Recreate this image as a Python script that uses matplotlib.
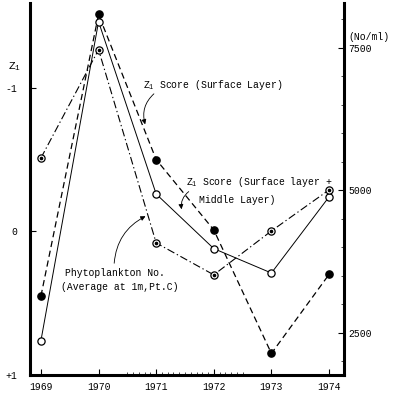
import matplotlib.pyplot as plt
import numpy as np

# values
years = [1969, 1970, 1971, 1972, 1973, 1974]
z1_surface = [0.45, -1.51, -0.50, -0.01, 0.85, 0.30]          # Z1 score (surface layer)
z1_surface_middle = [0.76, -1.46, -0.26, 0.12, 0.29, -0.24]   # Z1 score (surface + middle layer)
phyto_no = [5570, 7470, 4080, 3520, 4290, 5010]                # Phytoplankton No. (No/ml)

z_ticks = [-1, 0, 1]
z_tick_labels = ['-1', '0', '+1']
no_ticks = [2500, 5000, 7500]

mono = 'Liberation Mono'
plt.rcParams['font.family'] = mono
plt.rcParams['font.size'] = 7
plt.rcParams['mathtext.fontset'] = 'custom'
plt.rcParams['mathtext.rm'] = mono
plt.rcParams['mathtext.it'] = mono

fig = plt.figure(figsize=(3.94, 3.95), dpi=100)
ax = fig.add_axes([30 / 394, 1 - 375 / 395, 314 / 394, 372 / 395])
ax2 = ax.twinx()

# Z1 score lines (left axis, inverted)
ax.plot(years, z1_surface, color='black', lw=0.9, ls=(0, (5, 3)),
        marker='o', ms=5.2, mfc='black', mec='black', zorder=3)
ax.plot(years, z1_surface_middle, color='black', lw=0.7, ls='-',
        marker='o', ms=5.2, mfc='white', mec='black', mew=0.9, zorder=3)

# phytoplankton (right axis)
ax2.plot(years, phyto_no, color='black', lw=0.8, ls=(0, (7, 2.5, 1.2, 2.5)),
         marker='o', ms=5.2, mfc='white', mec='black', mew=0.9, zorder=3)
ax2.plot(years, phyto_no, ls='none', marker='o', ms=1.6, mfc='black', mec='black', zorder=4)

ax.set_xlim(1968.81, 1974.26)
ax.set_ylim(1.0, -1.59)
ax2.set_ylim(1763, 8289)

ax.set_xticks(years)
ax.set_xticklabels([str(y) for y in years])
ax.set_yticks(z_ticks)
ax.set_yticklabels(z_tick_labels)
ax2.set_yticks(no_ticks)
ax2.set_yticklabels([str(v) for v in no_ticks])

ax.tick_params(axis='x', direction='in', length=4, width=0.8, pad=5)
ax.tick_params(axis='y', direction='in', length=4, width=0.8, pad=9)
ax2.tick_params(axis='y', direction='in', length=4, width=0.8, pad=3)
ax.set_xticks(np.arange(1970.5, 1972.6, 0.1), minor=True)
ax.tick_params(axis='x', which='minor', direction='in', length=2, width=0.5)
ax2.set_yticks(np.arange(2000, 8001, 500), minor=True)
ax2.tick_params(axis='y', which='minor', direction='in', length=2, width=0.5)

for a in (ax, ax2):
    a.spines['top'].set_visible(False)
ax.spines['left'].set_linewidth(2.2)
ax.spines['bottom'].set_linewidth(2.2)
ax2.spines['right'].set_linewidth(2.2)
ax2.spines['left'].set_visible(False)
ax2.spines['bottom'].set_visible(False)

# axis labels
fig.text(15 / 394, 1 - 67 / 395, 'Z$_1$', ha='center', va='center', fontsize=8)
fig.text(348 / 394, 1 - 37 / 395, '(No/ml)', ha='left', va='center', fontsize=7)

# annotations
arrow = dict(arrowstyle='-|>', color='black', lw=0.6, mutation_scale=7,
             connectionstyle='arc3,rad=0.35')
fig.text(143 / 394, 1 - 85 / 395, 'Z$_1$ Score (Surface Layer)', ha='left', va='center')
ax.annotate('', xy=(146, 395 - 127), xycoords='figure pixels',
            xytext=(156, 395 - 92), textcoords='figure pixels', arrowprops=arrow)

fig.text(186 / 394, 1 - 182 / 395, 'Z$_1$ Score (Surface layer +', ha='left', va='center')
fig.text(199 / 394, 1 - 200 / 395, 'Middle Layer)', ha='left', va='center')
ax.annotate('', xy=(182, 395 - 212), xycoords='figure pixels',
            xytext=(191, 395 - 190), textcoords='figure pixels', arrowprops=arrow)

fig.text(65 / 394, 1 - 273 / 395, 'Phytoplankton No.', ha='left', va='center')
fig.text(61 / 394, 1 - 287 / 395, '(Average at 1m,Pt.C)', ha='left', va='center')
ax.annotate('', xy=(148, 395 - 215), xycoords='figure pixels',
            xytext=(114, 395 - 266), textcoords='figure pixels',
            arrowprops=dict(arrowstyle='-|>', color='black', lw=0.6, mutation_scale=7,
                            connectionstyle='arc3,rad=-0.3'))

fig.savefig('out.png', dpi=100)
